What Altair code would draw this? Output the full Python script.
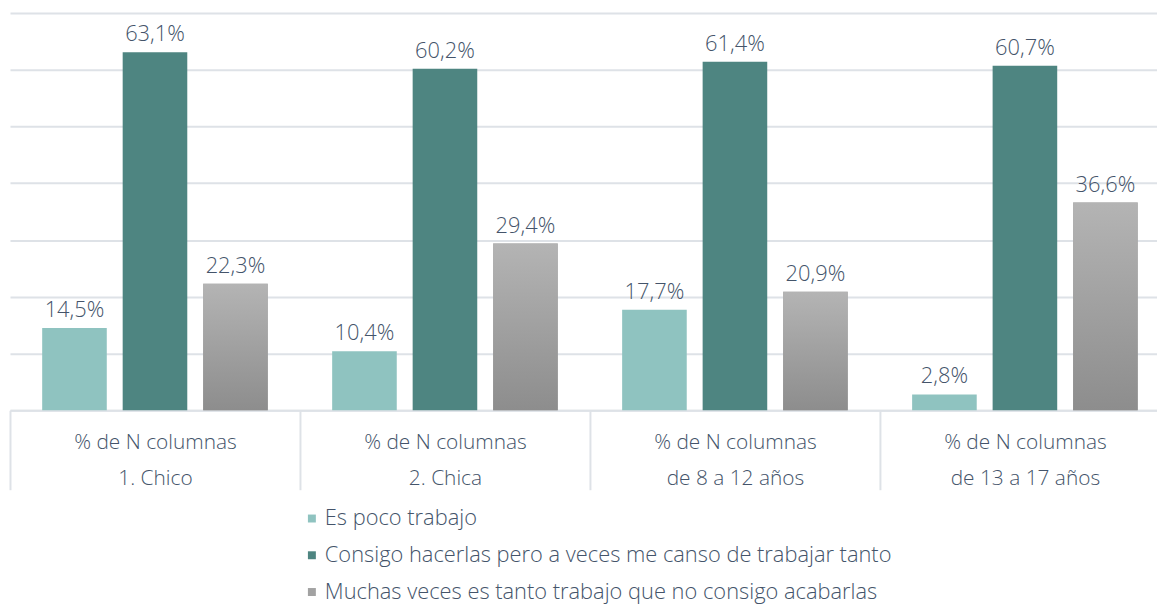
import altair as alt
import pandas as pd

groups = ["1. Chico", "2. Chica", "de 8 a 12 años", "de 13 a 17 años"]
series = [
    "Es poco trabajo",
    "Consigo hacerlas pero a veces me canso de trabajar tanto",
    "Muchas veces es tanto trabajo que no consigo acabarlas",
]
es_poco = [14.5, 10.4, 17.7, 2.8]
consigo = [63.1, 60.2, 61.4, 60.7]
muchas = [22.3, 29.4, 20.9, 36.6]
colors = ["#8FC3C0", "#4E8581", "#A2A2A2"]
y_ticks = [0, 10, 20, 30, 40, 50, 60, 70]

rows = []
for s, vals in zip(series, [es_poco, consigo, muchas]):
    for g, v in zip(groups, vals):
        rows.append({"grupo": g, "serie": s, "valor": v})
df = pd.DataFrame(rows)

TXT = "#44546A"
GRID = "#DEE2E7"
FONT = "Open Sans"
WEIGHT = 300

group_list = "[" + ", ".join("'" + g + "'" for g in groups) + "]"

x_enc = alt.X(
    "grupo:N",
    sort=groups,
    scale=alt.Scale(paddingInner=0, paddingOuter=0),
    axis=alt.Axis(
        title=None,
        labelAngle=0,
        tickBand="extent",
        tickSize=80,
        tickColor=GRID,
        tickWidth=2,
        domainColor=GRID,
        domainWidth=2,
        labelPadding=-59,
        labelBaseline="top",
        labelLineHeight=37,
        labelFontSize=21,
        labelFont=FONT,
        labelFontWeight=WEIGHT,
        labelColor=TXT,
        labelFlush=False,
        labelOverlap=False,
        labelExpr="(datum.extra || indexof(" + group_list + ", datum.value) < 0) ? '' : ['% de N columnas', datum.value]",
    ),
)
xoff = alt.XOffset(
    "serie:N",
    sort=series,
    scale=alt.Scale(domain=series, paddingInner=0.1975, paddingOuter=0.4),
)
y_enc = alt.Y(
    "valor:Q",
    scale=alt.Scale(domain=[0, 70]),
    axis=alt.Axis(
        title=None,
        values=y_ticks,
        labels=False,
        ticks=False,
        domain=False,
        grid=True,
        gridColor=GRID,
        gridWidth=2,
    ),
)

base = alt.Chart(df)

bars = base.mark_bar().encode(
    x=x_enc,
    xOffset=xoff,
    y=y_enc,
    color=alt.Color(
        "serie:N",
        sort=series,
        scale=alt.Scale(domain=series, range=colors),
        legend=alt.Legend(
            title=None,
            orient="none",
            legendX=293,
            legendY=498,
            direction="vertical",
            symbolType="square",
            symbolSize=64,
            symbolStrokeWidth=0,
            labelOffset=2,
            labelFontSize=22,
            labelFont=FONT,
            labelFontWeight=WEIGHT,
            labelColor=TXT,
            labelLimit=0,
            rowPadding=15,
            padding=0,
        ),
    ),
)

grad = (
    base.transform_filter(alt.datum.serie == series[2])
    .mark_bar(
        color=alt.Gradient(
            gradient="linear",
            stops=[
                alt.GradientStop(color="#B4B4B4", offset=0),
                alt.GradientStop(color="#8D8D8D", offset=1),
            ],
            x1=0,
            x2=0,
            y1=0,
            y2=1,
        )
    )
    .encode(x=x_enc, xOffset=xoff, y=y_enc)
)

labels = (
    base.transform_calculate(
        etiqueta="replace(format(datum.valor, '.1f'), '.', ',') + '%'"
    )
    .mark_text(baseline="bottom", dy=-6, fontSize=22, font=FONT,
               fontWeight=WEIGHT, color=TXT)
    .encode(x=x_enc, xOffset=xoff, y=y_enc, text="etiqueta:N")
)

chart = (
    alt.layer(bars, grad, labels)
    .properties(
        width=1168,
        height=400,
        autosize=alt.AutoSizeParams(type="none"),
        padding={"left": 2, "top": 3, "right": -13, "bottom": 193},
    )
    .configure_view(stroke=None)
)

chart.save("out.html", embed_options={"renderer": "svg", "actions": False})
